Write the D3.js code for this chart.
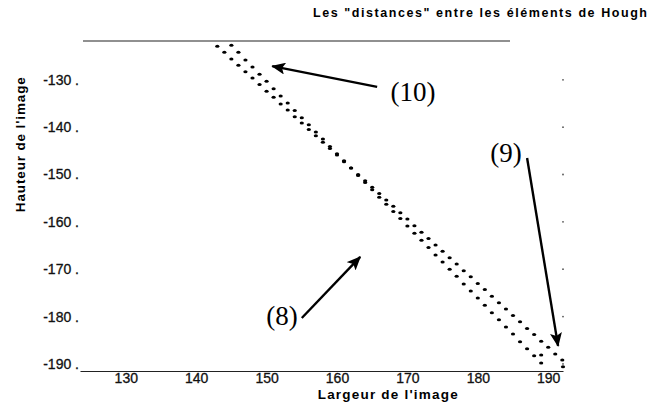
<!DOCTYPE html>
<html>
<head>
<meta charset="utf-8">
<script src="https://cdn.jsdelivr.net/npm/d3@7"></script>
<style>
  body { margin: 0; background: #fff; }
  svg { display: block; }
  .axis text { font-family: "Liberation Sans", Arial, sans-serif; font-size: 14px; fill: #111; stroke: #111; stroke-width: 0.3; }
</style>
</head>
<body>
<div id="chart"></div>
<script>
'use strict';

var title = 'Les "distances" entre les éléments de Hough',
    xLabel = "Largeur de l'image",
    yLabel = "Hauteur de l'image";

var xTicks = [130, 140, 150, 160, 170, 180, 190],
    yTicks = [-130, -140, -150, -160, -170, -180, -190];

// steep track (right at the top, left at the bottom)
var steepX = [145, 146, 147, 148, 149, 150, 151, 152, 153, 154, 155, 156, 157, 158, 159,
              160, 161, 162, 163, 164, 165, 166, 167, 168, 169, 170, 171, 172, 173, 174,
              175, 176, 177, 178, 179, 180, 181, 182, 183, 184, 185, 186, 187, 188, 189];
var steepY = [-122.7, -124.2, -125.8, -127.3, -128.8, -130.3, -131.9, -133.4, -134.9, -136.5,
              -138.0, -139.5, -141.0, -142.5, -144.1, -145.6, -147.1, -148.6, -150.2, -151.7,
              -153.2, -154.8, -156.3, -157.8, -159.3, -160.9, -162.4, -163.9, -165.4, -167.0,
              -168.5, -170.0, -171.5, -173.1, -174.6, -176.1, -177.6, -179.2, -180.7, -182.2,
              -183.7, -185.3, -186.8, -188.3, -189.8];

// shallow track (left at the top, right at the bottom)
var shallowX = [143, 144, 145, 146, 147, 148, 149, 150, 151, 152, 153, 154, 155, 156, 157,
                158, 159, 160, 161, 162, 163, 164, 165, 166, 167, 168, 169, 170, 171, 172,
                173, 174, 175, 176, 177, 178, 179, 180, 181, 182, 183, 184, 185, 186, 187,
                188, 189, 190, 191, 192];
var shallowY = [-122.9, -124.2, -125.6, -126.9, -128.3, -129.6, -131.0, -132.4, -133.7, -135.1,
                -136.4, -137.8, -139.1, -140.5, -141.8, -143.2, -144.5, -145.9, -147.3, -148.6,
                -150.0, -151.3, -152.7, -154.0, -155.4, -156.7, -158.1, -159.4, -160.8, -162.2,
                -163.5, -164.9, -166.2, -167.6, -168.9, -170.3, -171.6, -173.0, -174.3, -175.7,
                -177.1, -178.4, -179.8, -181.1, -182.5, -183.8, -185.2, -186.5, -187.9, -189.2];

// a few stray points near the bottom right
var strayX = [189.0, 192.1],
    strayY = [-188.1, -190.6];

// annotations: label, label position, arrow tail, arrow tip (data units)
var notes = [
  { label: "(10)", lx: 170.8, ly: -132.6, x1: 165.7, y1: -131.5, x2: 150.8, y2: -127.1 },
  { label: "(9)",  lx: 184.0, ly: -145.5, x1: 187.0, y1: -146.5, x2: 191.4, y2: -186.2 },
  { label: "(8)",  lx: 152.2, ly: -179.9, x1: 155.0, y1: -180.3, x2: 163.3, y2: -167.4 }
];

var width = 651, height = 405;

var x = d3.scaleLinear().domain([123.5, 192.1]).range([80, 563]);
var y = d3.scaleLinear().domain([-121.8, -191.5]).range([41, 371]);

var svg = d3.select("#chart").append("svg")
    .attr("width", width)
    .attr("height", height);

var defs = svg.append("defs");
defs.append("marker")
    .attr("id", "head")
    .attr("markerUnits", "userSpaceOnUse")
    .attr("viewBox", "0 0 14 12")
    .attr("refX", 13).attr("refY", 6)
    .attr("markerWidth", 14).attr("markerHeight", 12)
    .attr("orient", "auto")
  .append("path")
    .attr("d", "M0,0 L14,6 L0,12 L3,6 Z")
    .attr("fill", "#000");

// title
svg.append("text")
    .attr("x", 647).attr("y", 17)
    .attr("text-anchor", "end")
    .attr("textLength", 334)
    .style("font-family", "Liberation Sans, Arial, sans-serif")
    .style("font-size", "12.5px")
    .style("font-weight", "bold")
    .text(title);

// top frame line
svg.append("line")
    .attr("x1", 83).attr("x2", 510)
    .attr("y1", y(-121.8)).attr("y2", y(-121.8))
    .attr("stroke", "#222").attr("stroke-width", 1.2);

// x axis (bottom)
var gx = svg.append("g")
    .attr("class", "axis")
    .attr("transform", "translate(0," + y(-191.5) + ")")
    .call(d3.axisBottom(x).tickValues(xTicks).tickSize(0).tickSizeOuter(0).tickPadding(2));
gx.select(".domain").attr("stroke", "#222").attr("stroke-width", 1.2);

// y axis (left, no line, dot after each label)
var gy = svg.append("g")
    .attr("class", "axis")
    .attr("transform", "translate(" + 80 + ",0)")
    .call(d3.axisLeft(y).tickValues(yTicks).tickSize(0).tickPadding(1)
      .tickFormat(function(d) { return d + " ."; }));
gy.select(".domain").remove();

// small tick dots on the right edge
svg.selectAll(".rtick")
    .data(yTicks)
  .enter().append("circle")
    .attr("class", "rtick")
    .attr("cx", x(192.1))
    .attr("cy", function(d) { return y(d); })
    .attr("r", 0.9)
    .attr("fill", "#555");

// axis labels
svg.append("text")
    .attr("x", x(167.2)).attr("y", 399)
    .attr("text-anchor", "middle")
    .attr("textLength", 140)
    .style("font-family", "Liberation Sans, Arial, sans-serif")
    .style("font-size", "13.5px")
    .style("font-weight", "bold")
    .text(xLabel);

svg.append("text")
    .attr("transform", "translate(25," + y(-143.7) + ") rotate(-90)")
    .attr("text-anchor", "middle")
    .attr("textLength", 135)
    .style("font-family", "Liberation Sans, Arial, sans-serif")
    .style("font-size", "13.5px")
    .style("font-weight", "bold")
    .text(yLabel);

// dot tracks
function drawTrack(xs, ys) {
    svg.append("g").selectAll("ellipse")
        .data(xs.map(function(d, i) { return [d, ys[i]]; }))
      .enter().append("ellipse")
        .attr("cx", function(d) { return x(d[0]); })
        .attr("cy", function(d) { return y(d[1]); })
        .attr("rx", 2.1).attr("ry", 1.5)
        .attr("fill", "#000");
}
drawTrack(steepX, steepY);
drawTrack(shallowX, shallowY);
drawTrack(strayX, strayY);

// annotations
var ann = svg.append("g").selectAll("g")
    .data(notes)
  .enter().append("g");

ann.append("line")
    .attr("x1", function(d) { return x(d.x1); })
    .attr("y1", function(d) { return y(d.y1); })
    .attr("x2", function(d) { return x(d.x2); })
    .attr("y2", function(d) { return y(d.y2); })
    .attr("stroke", "#000")
    .attr("stroke-width", 2.4)
    .attr("marker-end", "url(#head)");

ann.append("text")
    .attr("x", function(d) { return x(d.lx); })
    .attr("y", function(d) { return y(d.ly); })
    .attr("text-anchor", "middle")
    .attr("dominant-baseline", "central")
    .style("font-family", "Liberation Serif, 'Times New Roman', serif")
    .style("font-size", "27px")
    .text(function(d) { return d.label; });
</script>
</body>
</html>
